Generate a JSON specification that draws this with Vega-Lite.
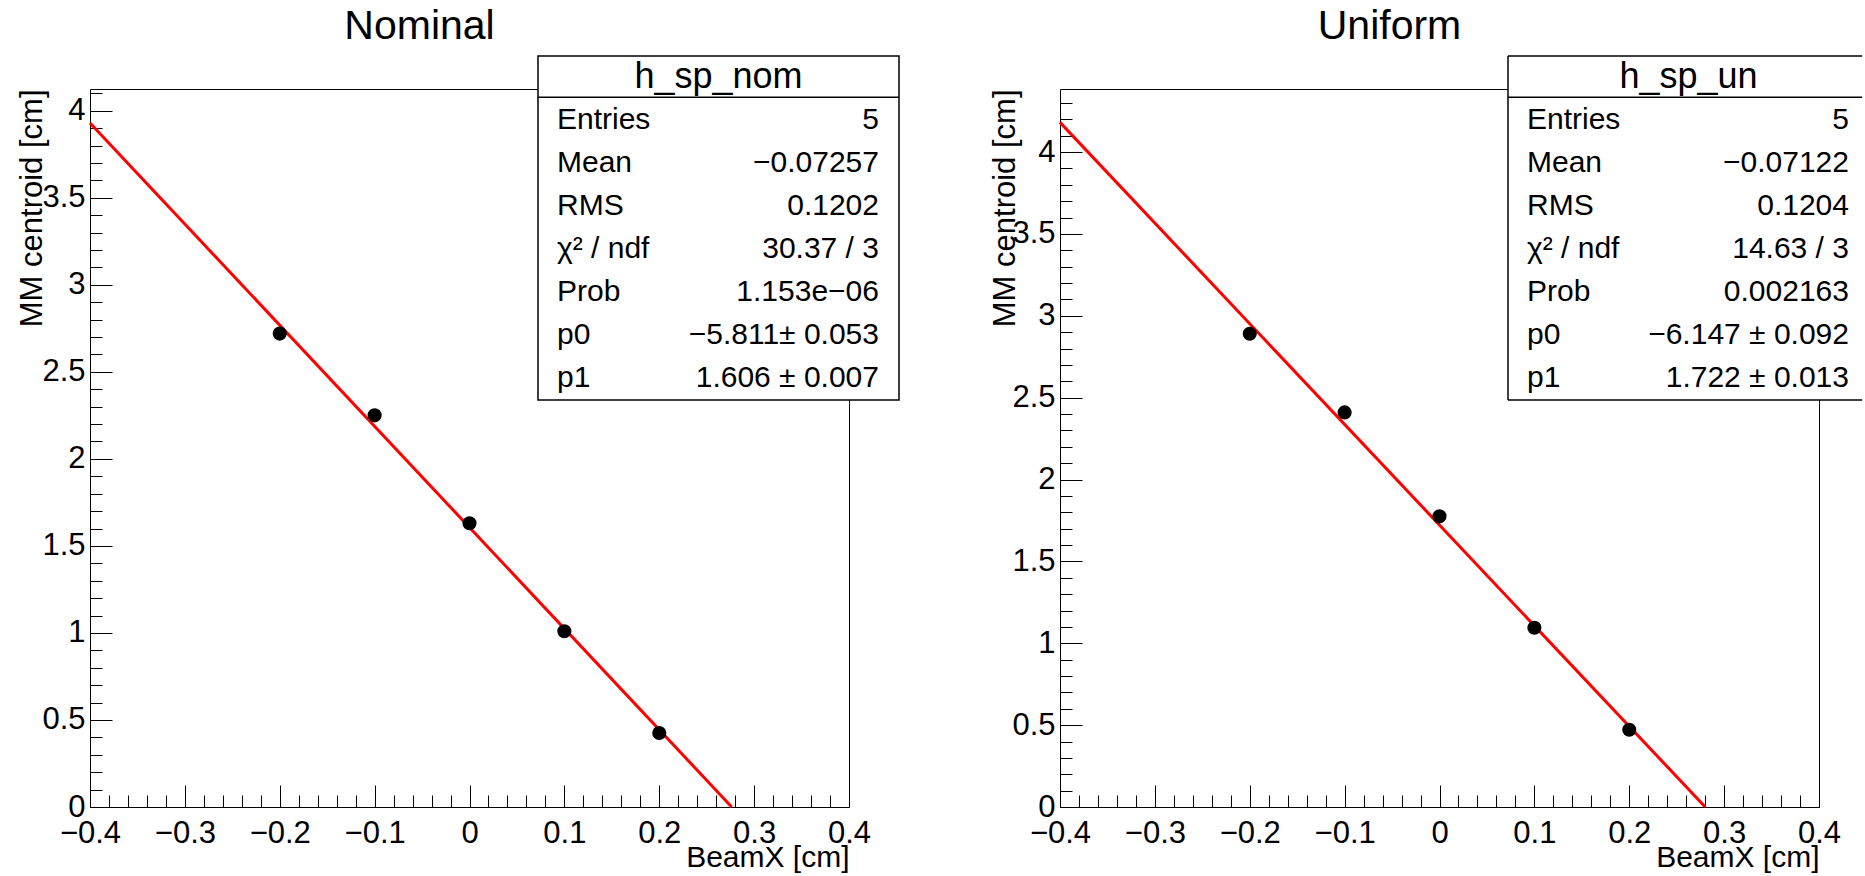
{
  "$schema": "https://vega.github.io/schema/vega-lite/v6.json",
  "padding": {"left": 15, "top": 5, "right": 0, "bottom": 0},
  "background": "white",
  "spacing": 211,
  "bounds": "flush",
  "config": {
    "font": "Liberation Sans",
    "view": {"stroke": "black", "strokeWidth": 1},
    "axis": {
      "labelFontSize": 31, "labelColor": "black", "labelFont": "Liberation Sans",
      "titleFontSize": 30, "titleColor": "black", "titleFontWeight": "normal", "titleFont": "Liberation Sans",
      "ticks": false, "domain": false, "grid": true, "gridColor": "black", "gridOpacity": 1, "gridWidth": 1,
      "labelFlush": false, "labelOverlap": false, "tickCount": 500
    },
    "title": {"font": "Liberation Sans", "fontWeight": "normal", "color": "black"}
  },
  "datasets": {
    "pts_nom": [
      {"beamx": -0.2, "centroid": 2.72}, {"beamx": -0.1, "centroid": 2.25}, {"beamx": 0, "centroid": 1.63},
      {"beamx": 0.1, "centroid": 1.01}, {"beamx": 0.2, "centroid": 0.425}
    ],
    "fit_nom": [{"beamx": -0.4, "centroid": 3.930}, {"beamx": 0.2764, "centroid": 0}],
    "pts_un": [
      {"beamx": -0.2, "centroid": 2.89}, {"beamx": -0.1, "centroid": 2.41}, {"beamx": 0, "centroid": 1.775},
      {"beamx": 0.1, "centroid": 1.095}, {"beamx": 0.2, "centroid": 0.472}
    ],
    "fit_un": [{"beamx": -0.4, "centroid": 4.181}, {"beamx": 0.2801, "centroid": 0}],
    "stats_nom": [
      {"key": "header", "label": "h_sp_nom", "value": ""},
      {"key": "Entries", "label": "Entries", "value": "5"},
      {"key": "Mean", "label": "Mean", "value": "−0.07257"},
      {"key": "RMS", "label": "RMS", "value": "0.1202"},
      {"key": "chi2", "label": "χ² / ndf", "value": "30.37 / 3"},
      {"key": "Prob", "label": "Prob", "value": "1.153e−06"},
      {"key": "p0", "label": "p0", "value": "−5.811± 0.053"},
      {"key": "p1", "label": "p1", "value": "1.606 ± 0.007"}
    ],
    "stats_un": [
      {"key": "header", "label": "h_sp_un", "value": ""},
      {"key": "Entries", "label": "Entries", "value": "5"},
      {"key": "Mean", "label": "Mean", "value": "−0.07122"},
      {"key": "RMS", "label": "RMS", "value": "0.1204"},
      {"key": "chi2", "label": "χ² / ndf", "value": "14.63 / 3"},
      {"key": "Prob", "label": "Prob", "value": "0.002163"},
      {"key": "p0", "label": "p0", "value": "−6.147 ± 0.092"},
      {"key": "p1", "label": "p1", "value": "1.722 ± 0.013"}
    ]
  },
  "hconcat": [
    {
      "width": 759, "height": 718,
      "title": {"text": "Nominal", "frame": "group", "anchor": "middle", "dx": -50, "baseline": "alphabetic", "offset": -25, "fontSize": 41},
      "layer": [
        {
          "layer": [
            {
              "data": {"name": "fit_nom"},
              "mark": {"type": "line", "color": "#ff0000", "strokeWidth": 3},
              "encoding": {
                "x": {"field": "beamx", "type": "quantitative", "scale": {"domain": [-0.4, 0.4], "nice": false, "zero": false},
                  "axis": {
                    "values": [-0.4,-0.38,-0.36,-0.34,-0.32,-0.3,-0.28,-0.26,-0.24,-0.22,-0.2,-0.18,-0.16,-0.14,-0.12,-0.1,-0.08,-0.06,-0.04,-0.02,0,0.02,0.04,0.06,0.08,0.1,0.12,0.14,0.16,0.18,0.2,0.22,0.24,0.26,0.28,0.3,0.32,0.34,0.36,0.38,0.4],
                    "tickCount": 500,
                    "labelExpr": "abs(datum.value*10-round(datum.value*10))<1e-6 ? format(datum.value,'~g') : ''",
                    "labelPadding": 35, "labelBaseline": "alphabetic",
                    "gridDash": {"condition": {"test": "abs(datum.value*10-round(datum.value*10))<1e-6", "value": [0, 696, 22, 2000]}, "value": [0, 706, 12, 2000]},
                    "title": "BeamX [cm]", "titleX": 759, "titleY": 59, "titleAlign": "right", "titleBaseline": "alphabetic", "titleAnchor": "end"
                  }},
                "y": {"field": "centroid", "type": "quantitative", "scale": {"domain": [0, 4.125], "nice": false, "zero": false},
                  "axis": {
                    "values": [0,0.1,0.2,0.3,0.4,0.5,0.6,0.7,0.8,0.9,1,1.1,1.2,1.3,1.4,1.5,1.6,1.7,1.8,1.9,2,2.1,2.2,2.3,2.4,2.5,2.6,2.7,2.8,2.9,3,3.1,3.2,3.3,3.4,3.5,3.6,3.7,3.8,3.9,4,4.1],
                    "tickCount": 500,
                    "labelExpr": "abs(datum.value*2-round(datum.value*2))<1e-6 ? format(datum.value,'~g') : ''",
                    "labelPadding": 5, "labelBaseline": "middle", "labelAlign": "right",
                    "gridDash": {"condition": {"test": "abs(datum.value*2-round(datum.value*2))<1e-6", "value": [22, 2000]}, "value": [12, 2000]},
                    "title": "MM centroid [cm]", "titleFontSize": 31, "titleX": -49, "titleY": 0, "titleAngle": -90, "titleAlign": "right", "titleBaseline": "alphabetic", "titleAnchor": "end"
                  }}
              }
            },
            {
              "data": {"name": "pts_nom"},
              "mark": {"type": "circle", "color": "black", "opacity": 1, "size": 200},
              "encoding": {"x": {"field": "beamx", "type": "quantitative"}, "y": {"field": "centroid", "type": "quantitative"}}
            },
            {
              "data": {"values": [{}]},
              "mark": {"type": "rect", "fill": "white", "stroke": "black", "strokeWidth": 1.5},
              "encoding": {"x": {"datum": 0.0722}, "x2": {"datum": 0.4527}, "y": {"datum": 4.3146}, "y2": {"datum": 2.3383}}
            },
            {
              "data": {"values": [{}]},
              "mark": {"type": "rule", "color": "black", "strokeWidth": 1.5},
              "encoding": {"x": {"datum": 0.0722}, "x2": {"datum": 0.4527}, "y": {"datum": 4.0773}}
            }
          ]
        },
        {
          "data": {"name": "stats_nom"},
          "transform": [{"filter": "datum.key == 'header'"}],
          "mark": {"type": "text", "align": "center", "baseline": "middle", "fontSize": 36, "color": "black"},
          "encoding": {
            "x": {"datum": 0.2625},
            "y": {"field": "key", "type": "ordinal", "axis": null, "scale": {"type": "point", "domain": ["header","Entries","Mean","RMS","chi2","Prob","p0","p1"], "range": [-12, 289], "padding": 0}},
            "text": {"field": "label"}
          }
        },
        {
          "data": {"name": "stats_nom"},
          "transform": [{"filter": "datum.key != 'header'"}],
          "mark": {"type": "text", "align": "left", "baseline": "middle", "fontSize": 30, "color": "black"},
          "encoding": {
            "x": {"datum": 0.0922},
            "y": {"field": "key", "type": "ordinal", "axis": null, "scale": {"type": "point", "domain": ["header","Entries","Mean","RMS","chi2","Prob","p0","p1"], "range": [-12, 289], "padding": 0}},
            "text": {"field": "label"}
          }
        },
        {
          "data": {"name": "stats_nom"},
          "transform": [{"filter": "datum.key != 'header'"}],
          "mark": {"type": "text", "align": "right", "baseline": "middle", "fontSize": 30, "color": "black"},
          "encoding": {
            "x": {"datum": 0.4316},
            "y": {"field": "key", "type": "ordinal", "axis": null, "scale": {"type": "point", "domain": ["header","Entries","Mean","RMS","chi2","Prob","p0","p1"], "range": [-12, 289], "padding": 0}},
            "text": {"field": "value"}
          }
        }
      ],
      "resolve": {"scale": {"y": "independent"}}
    },
    {
      "width": 759, "height": 718,
      "title": {"text": "Uniform", "frame": "group", "anchor": "middle", "dx": -50, "baseline": "alphabetic", "offset": -25, "fontSize": 41},
      "layer": [
        {
          "layer": [
            {
              "data": {"name": "fit_un"},
              "mark": {"type": "line", "color": "#ff0000", "strokeWidth": 3},
              "encoding": {
                "x": {"field": "beamx", "type": "quantitative", "scale": {"domain": [-0.4, 0.4], "nice": false, "zero": false},
                  "axis": {
                    "values": [-0.4,-0.38,-0.36,-0.34,-0.32,-0.3,-0.28,-0.26,-0.24,-0.22,-0.2,-0.18,-0.16,-0.14,-0.12,-0.1,-0.08,-0.06,-0.04,-0.02,0,0.02,0.04,0.06,0.08,0.1,0.12,0.14,0.16,0.18,0.2,0.22,0.24,0.26,0.28,0.3,0.32,0.34,0.36,0.38,0.4],
                    "tickCount": 500,
                    "labelExpr": "abs(datum.value*10-round(datum.value*10))<1e-6 ? format(datum.value,'~g') : ''",
                    "labelPadding": 35, "labelBaseline": "alphabetic",
                    "gridDash": {"condition": {"test": "abs(datum.value*10-round(datum.value*10))<1e-6", "value": [0, 696, 22, 2000]}, "value": [0, 706, 12, 2000]},
                    "title": "BeamX [cm]", "titleX": 759, "titleY": 59, "titleAlign": "right", "titleBaseline": "alphabetic", "titleAnchor": "end"
                  }},
                "y": {"field": "centroid", "type": "quantitative", "scale": {"domain": [0, 4.385], "nice": false, "zero": false},
                  "axis": {
                    "values": [0,0.1,0.2,0.3,0.4,0.5,0.6,0.7,0.8,0.9,1,1.1,1.2,1.3,1.4,1.5,1.6,1.7,1.8,1.9,2,2.1,2.2,2.3,2.4,2.5,2.6,2.7,2.8,2.9,3,3.1,3.2,3.3,3.4,3.5,3.6,3.7,3.8,3.9,4,4.1,4.2,4.3],
                    "tickCount": 500,
                    "labelExpr": "abs(datum.value*2-round(datum.value*2))<1e-6 ? format(datum.value,'~g') : ''",
                    "labelPadding": 5, "labelBaseline": "middle", "labelAlign": "right",
                    "gridDash": {"condition": {"test": "abs(datum.value*2-round(datum.value*2))<1e-6", "value": [22, 2000]}, "value": [12, 2000]},
                    "title": "MM centroid [cm]", "titleFontSize": 31, "titleX": -46, "titleY": 0, "titleAngle": -90, "titleAlign": "right", "titleBaseline": "alphabetic", "titleAnchor": "end"
                  }}
              }
            },
            {
              "data": {"name": "pts_un"},
              "mark": {"type": "circle", "color": "black", "opacity": 1, "size": 200},
              "encoding": {"x": {"field": "beamx", "type": "quantitative"}, "y": {"field": "centroid", "type": "quantitative"}}
            },
            {
              "data": {"values": [{}]},
              "mark": {"type": "rect", "fill": "white", "strokeWidth": 0},
              "encoding": {"x": {"datum": 0.0722}, "x2": {"datum": 0.4455}, "y": {"datum": 4.5865}, "y2": {"datum": 2.4856}}
            },
            {
              "data": {"values": [{}]},
              "mark": {"type": "rule", "color": "black", "strokeWidth": 1.5},
              "encoding": {"x": {"datum": 0.0722}, "x2": {"datum": 0.4455}, "y": {"datum": 4.5865}}
            },
            {
              "data": {"values": [{}]},
              "mark": {"type": "rule", "color": "black", "strokeWidth": 1.5},
              "encoding": {"x": {"datum": 0.0722}, "x2": {"datum": 0.4455}, "y": {"datum": 4.3343}}
            },
            {
              "data": {"values": [{}]},
              "mark": {"type": "rule", "color": "black", "strokeWidth": 1.5},
              "encoding": {"x": {"datum": 0.0722}, "x2": {"datum": 0.4455}, "y": {"datum": 2.4856}}
            },
            {
              "data": {"values": [{}]},
              "mark": {"type": "rule", "color": "black", "strokeWidth": 1.5},
              "encoding": {"x": {"datum": 0.0722}, "y": {"datum": 4.5865}, "y2": {"datum": 2.4856}}
            }
          ]
        },
        {
          "data": {"name": "stats_un"},
          "transform": [{"filter": "datum.key == 'header'"}],
          "mark": {"type": "text", "align": "center", "baseline": "middle", "fontSize": 36, "color": "black"},
          "encoding": {
            "x": {"datum": 0.2625},
            "y": {"field": "key", "type": "ordinal", "axis": null, "scale": {"type": "point", "domain": ["header","Entries","Mean","RMS","chi2","Prob","p0","p1"], "range": [-12, 289], "padding": 0}},
            "text": {"field": "label"}
          }
        },
        {
          "data": {"name": "stats_un"},
          "transform": [{"filter": "datum.key != 'header'"}],
          "mark": {"type": "text", "align": "left", "baseline": "middle", "fontSize": 30, "color": "black"},
          "encoding": {
            "x": {"datum": 0.0922},
            "y": {"field": "key", "type": "ordinal", "axis": null, "scale": {"type": "point", "domain": ["header","Entries","Mean","RMS","chi2","Prob","p0","p1"], "range": [-12, 289], "padding": 0}},
            "text": {"field": "label"}
          }
        },
        {
          "data": {"name": "stats_un"},
          "transform": [{"filter": "datum.key != 'header'"}],
          "mark": {"type": "text", "align": "right", "baseline": "middle", "fontSize": 30, "color": "black"},
          "encoding": {
            "x": {"datum": 0.4316},
            "y": {"field": "key", "type": "ordinal", "axis": null, "scale": {"type": "point", "domain": ["header","Entries","Mean","RMS","chi2","Prob","p0","p1"], "range": [-12, 289], "padding": 0}},
            "text": {"field": "value"}
          }
        }
      ],
      "resolve": {"scale": {"y": "independent"}}
    }
  ]
}
